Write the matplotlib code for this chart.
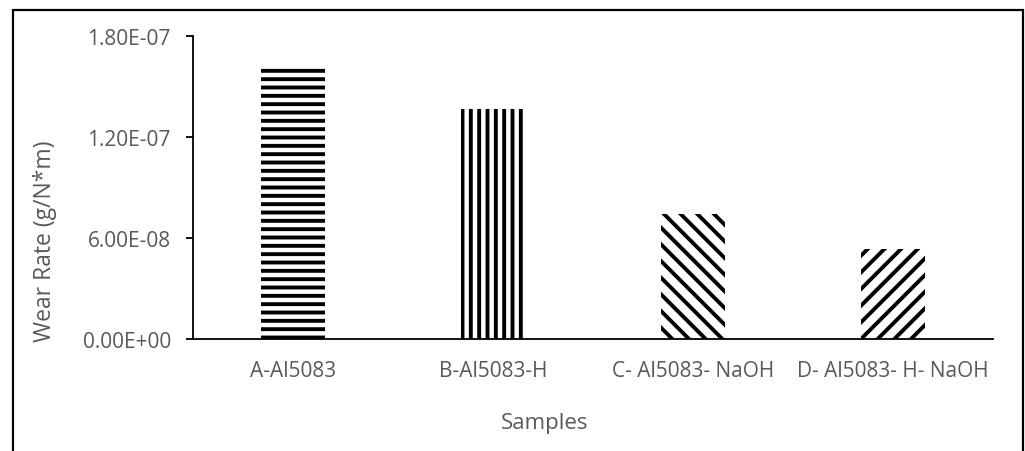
import numpy as np
import matplotlib.pyplot as plt
from matplotlib.patches import Rectangle
from matplotlib.ticker import FuncFormatter

# campioni e tasso di usura (g/N*m)
campioni = ["A-Al5083", "B-Al5083-H", "C- Al5083- NaOH", "D- Al5083- H- NaOH"]
usura = [1.61e-07, 1.365e-07, 7.45e-08, 5.35e-08]
tratteggi = ["--", "||", "\\\\", "//"]

y_ticks = [0.0, 6.0e-08, 1.2e-07, 1.8e-07]

plt.rcParams["font.family"] = ["Open Sans", "DejaVu Sans"]
plt.rcParams["hatch.linewidth"] = 2.8
grigio = "#595959"

fig = plt.figure(figsize=(10.25, 4.52), dpi=100)
W, H = 1025, 452

# cornice esterna (il bordo inferiore esce dall'immagine)
fig.patches.append(Rectangle((13 / W, -0.05), (1023 - 13) / W, (452 - 11) / H + 0.05,
                             transform=fig.transFigure, fill=False,
                             edgecolor="black", linewidth=1.6))

ax = fig.add_axes([193 / W, (H - 340) / H, (993 - 193) / W, (340 - 37) / H])

x = np.arange(len(campioni))
for i in range(len(campioni)):
    ax.bar(x[i], usura[i], width=0.32, color="white", edgecolor="black",
           linewidth=0, hatch=tratteggi[i])

ax.set_xlim(-0.5, len(campioni) - 0.5)
ax.set_ylim(0, 1.8e-07)
ax.set_yticks(y_ticks)
ax.yaxis.set_major_formatter(FuncFormatter(lambda v, p: f"{v:.2E}"))
ax.set_xticks(x)
ax.set_xticklabels(campioni, fontsize=15, color=grigio)

for s in ["top", "right"]:
    ax.spines[s].set_visible(False)
ax.spines["left"].set_linewidth(1.3)
ax.spines["bottom"].set_linewidth(1.3)
ax.tick_params(axis="y", length=5, width=1.3, labelsize=15, labelcolor=grigio, pad=11)
ax.tick_params(axis="x", length=0, pad=15)

fig.text(45 / W, 1 - 241 / H, "Wear Rate (g/N*m)", rotation=90, ha="center", va="center",
         fontsize=16.5, color=grigio)
fig.text(545 / W, 1 - 424 / H, "Samples", ha="center", va="center",
         fontsize=16, color=grigio)

plt.savefig("out.png", dpi=100)
